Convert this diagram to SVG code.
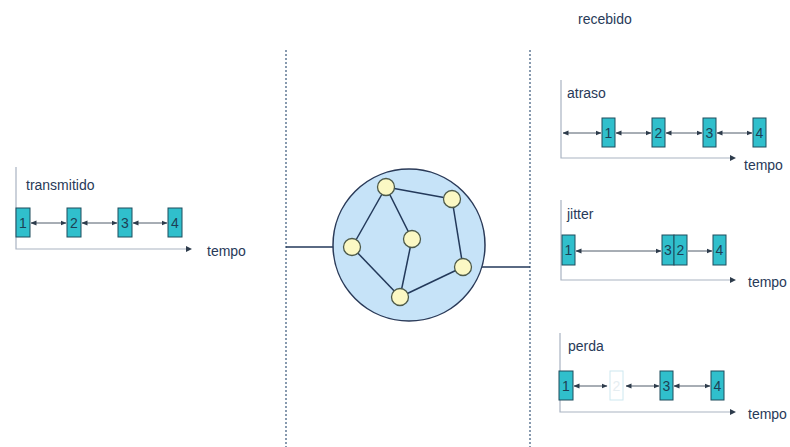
<svg xmlns="http://www.w3.org/2000/svg" width="790" height="447" viewBox="0 0 790 447">
<style>
text{font-family:"Liberation Sans",Arial,sans-serif;fill:#283a58}
.lbl{font-size:14px}
.num{font-size:14px;text-anchor:middle;fill:#1d3f55}
.axis{stroke:#a9b3c2;stroke-width:1.2;fill:none}
.pkt{fill:#30bfcc;stroke:#1f4c5c;stroke-width:1}
.ghost{fill:#ffffff;stroke:#cde8f0;stroke-width:1}
.arr{stroke:#3c4a5a;stroke-width:0.9;fill:none}
.dash{stroke:#56708e;stroke-width:1.4;stroke-dasharray:2 2;fill:none}
.edge{stroke:#23395a;stroke-width:1.5;fill:none}
.node{fill:#fbf8c4;stroke:#4d5a4a;stroke-width:1.3}
</style>
<defs>
<marker id="ah" viewBox="0 0 6 6" refX="5.5" refY="3" markerWidth="6" markerHeight="6" orient="auto-start-reverse" markerUnits="userSpaceOnUse"><path d="M0,0.5 L6,3 L0,5.5 Z" fill="#2e3c4c"/></marker>
<marker id="ax" viewBox="0 0 6 6" refX="5.5" refY="3" markerWidth="6" markerHeight="6" orient="auto" markerUnits="userSpaceOnUse"><path d="M0,0.5 L6,3 L0,5.5 Z" fill="#2e3c4c"/></marker>
</defs>

<g id="dividers">
<line class="dash" x1="286" y1="50" x2="286" y2="447"/>
<line class="dash" x1="530" y1="50" x2="530" y2="447"/>
</g>

<g id="connectors">
<line class="edge" x1="286" y1="247" x2="352" y2="247"/>
<line class="edge" x1="463" y1="267" x2="530" y2="267"/>
</g>

<g id="network">
<circle cx="409" cy="245" r="76" fill="#c6e3f8" stroke="#2a3a58" stroke-width="1.5"/>
<g class="links">
<line class="edge" x1="386" y1="187" x2="452" y2="199"/>
<line class="edge" x1="386" y1="187" x2="352" y2="247"/>
<line class="edge" x1="386" y1="187" x2="412" y2="239"/>
<line class="edge" x1="412" y1="239" x2="400" y2="297"/>
<line class="edge" x1="352" y1="247" x2="400" y2="297"/>
<line class="edge" x1="400" y1="297" x2="463" y2="267"/>
<line class="edge" x1="452" y1="199" x2="463" y2="267"/>
</g>
<circle class="node" cx="386" cy="187" r="8.5"/>
<circle class="node" cx="452" cy="199" r="8.5"/>
<circle class="node" cx="412" cy="239" r="8.5"/>
<circle class="node" cx="352" cy="247" r="8.5"/>
<circle class="node" cx="463" cy="267" r="8.5"/>
<circle class="node" cx="400" cy="297" r="8.5"/>
</g>

<g id="transmitido">
<polyline class="axis" points="16,167 16,249 186,249"/>
<path d="M186,246 L192,249 L186,252 Z" fill="#2e3c4c"/>
<text class="lbl" x="26" y="190">transmitido</text>
<text class="lbl" x="207" y="256">tempo</text>
<rect class="pkt" x="16" y="208" width="14" height="29"/><text class="num" x="23" y="228">1</text>
<rect class="pkt" x="67" y="208" width="14" height="29"/><text class="num" x="74" y="228">2</text>
<rect class="pkt" x="118" y="208" width="14" height="29"/><text class="num" x="125" y="228">3</text>
<rect class="pkt" x="168" y="208" width="14" height="29"/><text class="num" x="175" y="228">4</text>
<line class="arr" x1="31" y1="223" x2="66" y2="223" marker-start="url(#ah)" marker-end="url(#ah)"/>
<line class="arr" x1="82" y1="223" x2="117" y2="223" marker-start="url(#ah)" marker-end="url(#ah)"/>
<line class="arr" x1="133" y1="223" x2="167" y2="223" marker-start="url(#ah)" marker-end="url(#ah)"/>
</g>

<text id="recebido" class="lbl" x="578" y="24">recebido</text>

<g id="atraso">
<polyline class="axis" points="561,80 561,158 730,158"/>
<path d="M730,155 L736,158 L730,161 Z" fill="#2e3c4c"/>
<text class="lbl" x="567" y="98">atraso</text>
<text class="lbl" x="744" y="170">tempo</text>
<line class="arr" x1="563" y1="133" x2="601" y2="133" marker-start="url(#ah)" marker-end="url(#ah)"/>
<rect class="pkt" x="602" y="118" width="13" height="29"/><text class="num" x="608.5" y="138">1</text>
<rect class="pkt" x="652" y="118" width="13" height="29"/><text class="num" x="658.5" y="138">2</text>
<rect class="pkt" x="703" y="118" width="13" height="29"/><text class="num" x="709.5" y="138">3</text>
<rect class="pkt" x="753" y="118" width="13" height="29"/><text class="num" x="759.5" y="138">4</text>
<line class="arr" x1="616" y1="133" x2="651" y2="133" marker-start="url(#ah)" marker-end="url(#ah)"/>
<line class="arr" x1="666" y1="133" x2="702" y2="133" marker-start="url(#ah)" marker-end="url(#ah)"/>
<line class="arr" x1="717" y1="133" x2="752" y2="133" marker-start="url(#ah)" marker-end="url(#ah)"/>
</g>

<g id="jitter">
<polyline class="axis" points="561,200 561,280 730,280"/>
<path d="M730,277 L736,280 L730,283 Z" fill="#2e3c4c"/>
<text class="lbl" x="567" y="219">jitter</text>
<text class="lbl" x="748" y="287">tempo</text>
<rect class="pkt" x="562" y="235" width="13" height="30"/><text class="num" x="568.5" y="255">1</text>
<rect class="pkt" x="662" y="235" width="12" height="30"/><text class="num" x="668" y="255">3</text>
<rect class="pkt" x="674" y="235" width="13" height="30"/><text class="num" x="680.5" y="255">2</text>
<rect class="pkt" x="713" y="235" width="13" height="30"/><text class="num" x="719.5" y="255">4</text>
<line class="arr" x1="576" y1="251" x2="661" y2="251" marker-start="url(#ah)" marker-end="url(#ah)"/>
<line class="arr" x1="688" y1="251" x2="712" y2="251" marker-end="url(#ax)"/>
</g>

<g id="perda">
<polyline class="axis" points="560,333 560,412 730,412"/>
<path d="M730,409 L736,412 L730,415 Z" fill="#2e3c4c"/>
<text class="lbl" x="568" y="351">perda</text>
<text class="lbl" x="748" y="419">tempo</text>
<rect class="pkt" x="559" y="371" width="14" height="29"/><text class="num" x="566" y="391">1</text>
<rect class="ghost" x="610" y="371" width="13" height="29"/><text class="num" x="616.5" y="391" style="fill:#e6eef2">2</text>
<rect class="pkt" x="660" y="371" width="13" height="29"/><text class="num" x="666.5" y="391">3</text>
<rect class="pkt" x="711" y="371" width="13" height="29"/><text class="num" x="717.5" y="391">4</text>
<line class="arr" x1="574" y1="386" x2="607" y2="386" marker-start="url(#ah)" marker-end="url(#ah)"/>
<line class="arr" x1="626" y1="386" x2="659" y2="386" marker-start="url(#ah)" marker-end="url(#ah)"/>
<line class="arr" x1="674" y1="386" x2="710" y2="386" marker-start="url(#ah)" marker-end="url(#ah)"/>
</g>
</svg>
